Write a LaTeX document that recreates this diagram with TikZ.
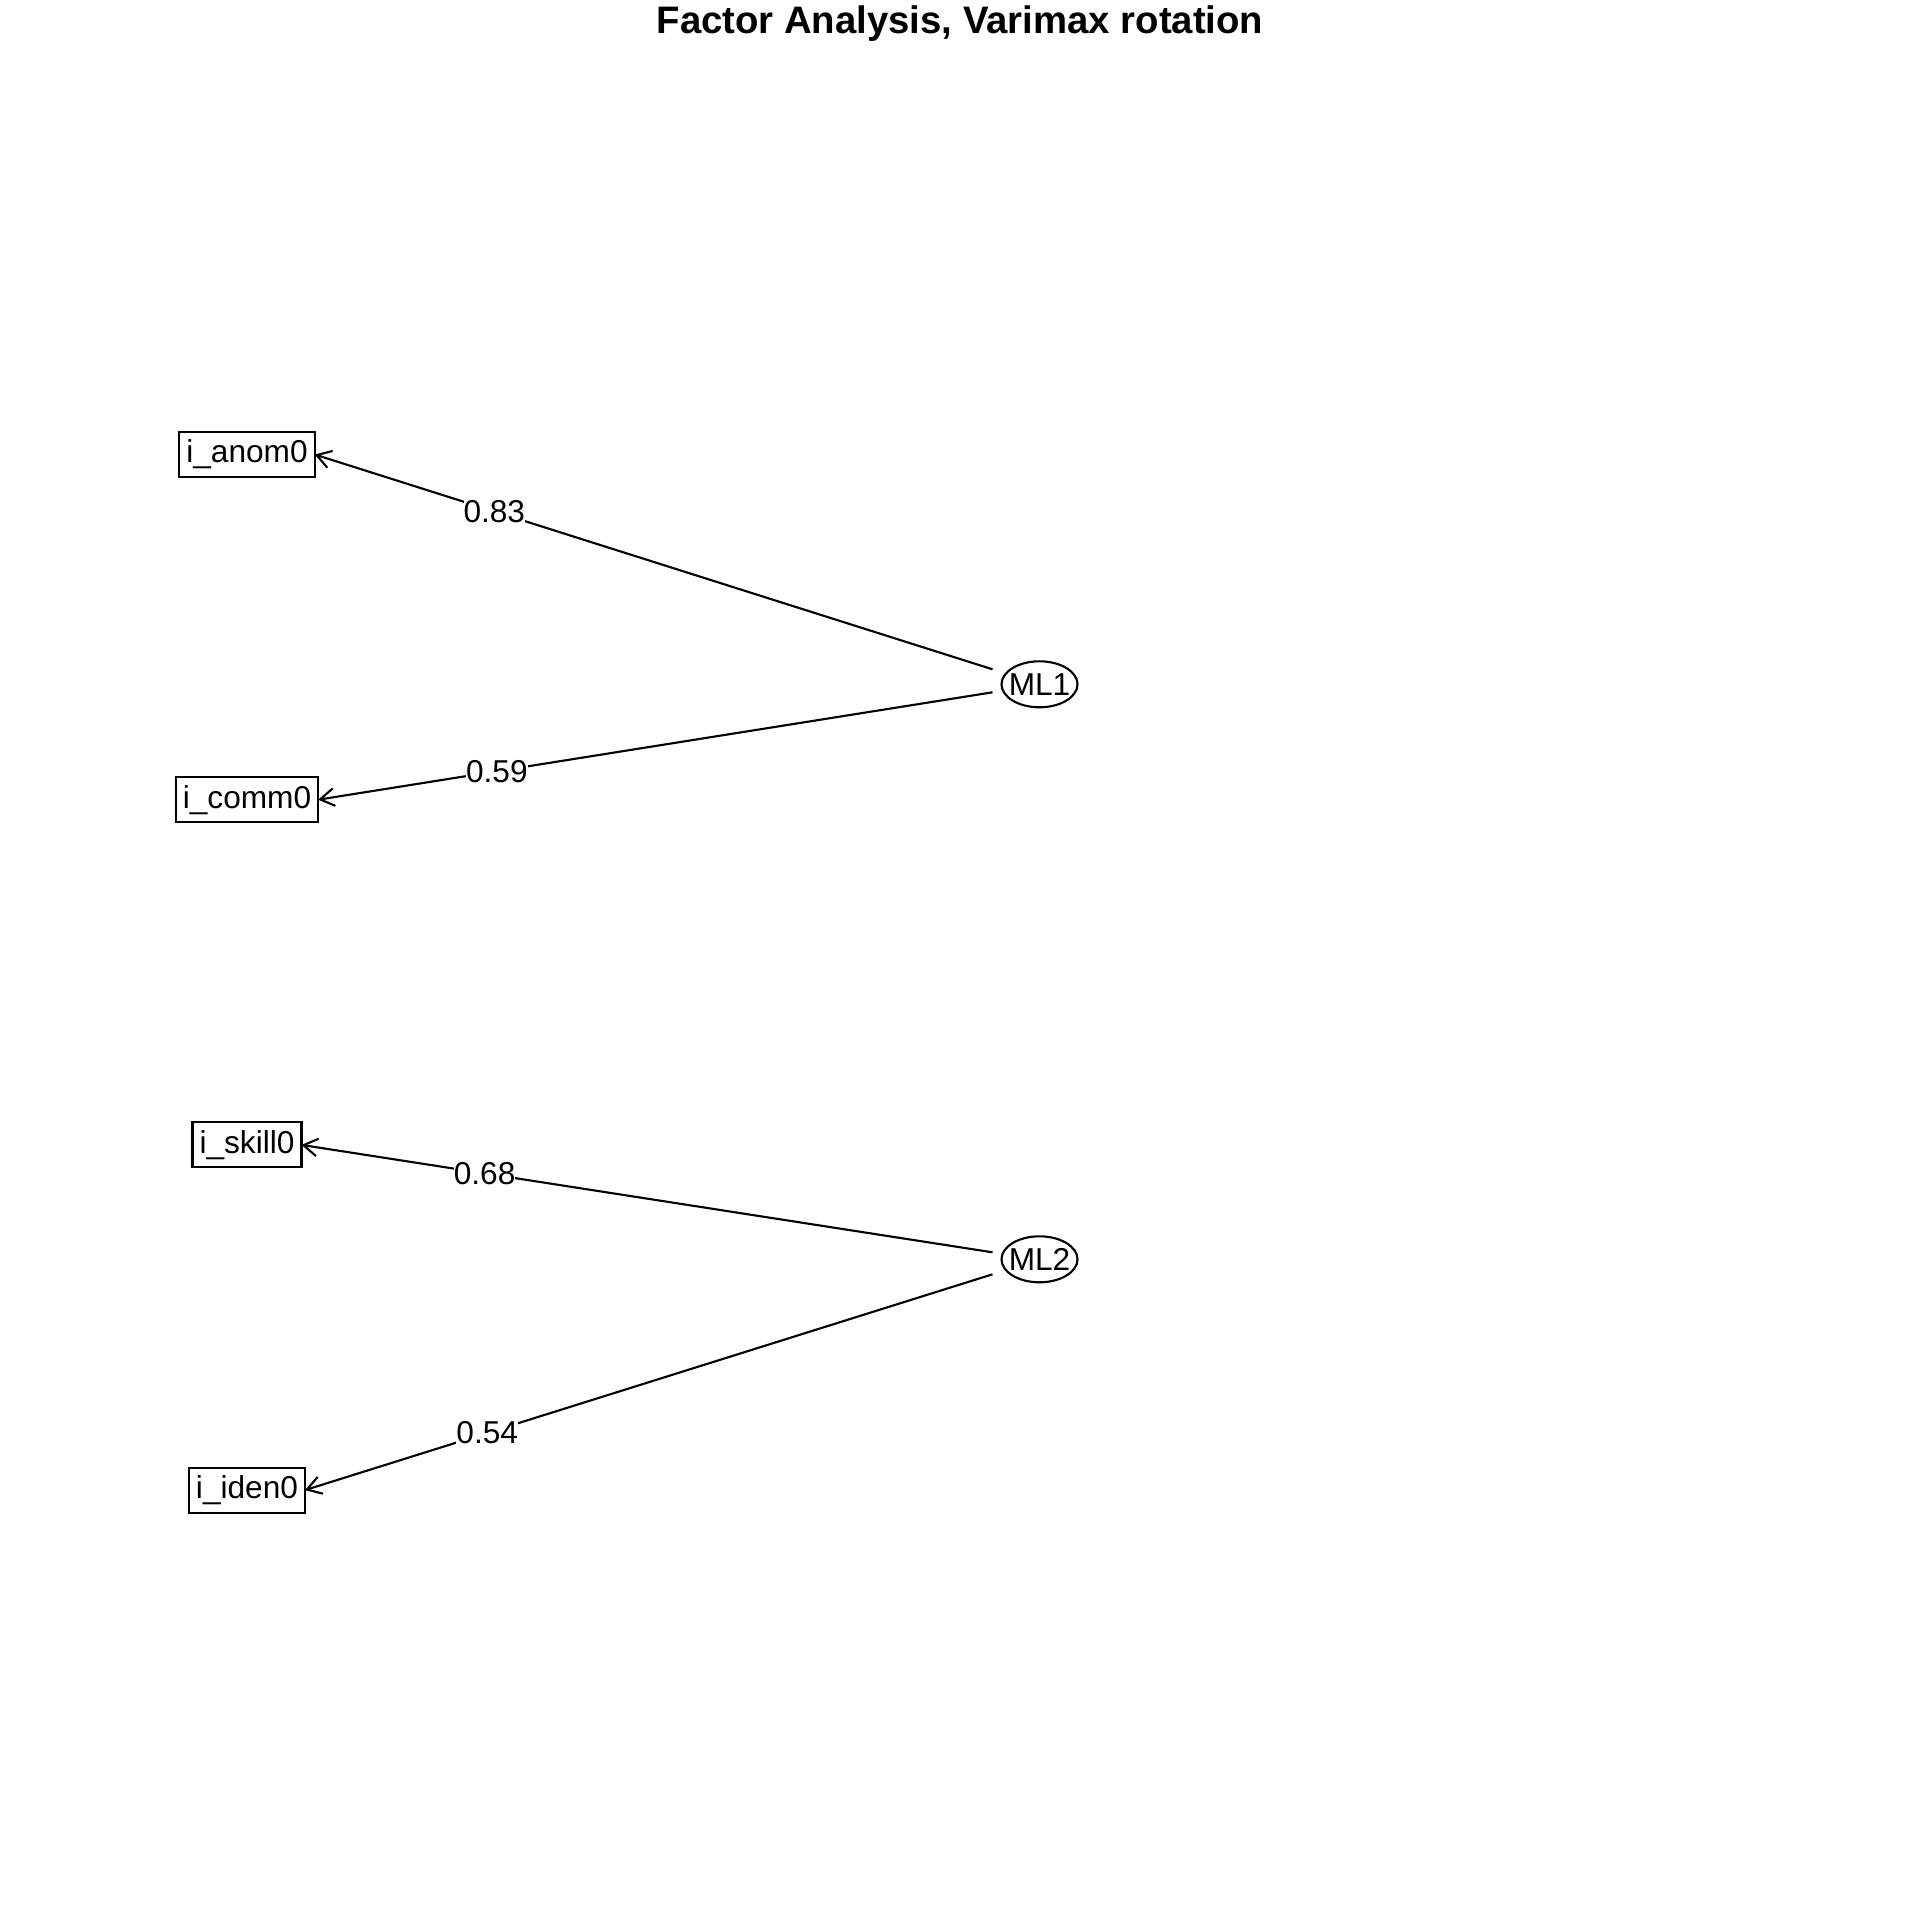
\documentclass[tikz,border=0pt]{standalone}
\usepackage{fontspec}
\setmainfont{Liberation Sans}
\usetikzlibrary{arrows.meta,positioning,shapes.geometric}

\begin{document}
\begin{tikzpicture}[
    item/.style={draw, inner xsep=0.07cm, inner ysep=0pt, minimum height=0.45cm, outer sep=0pt},
    factor/.style={draw, ellipse, inner xsep=-0.04cm, inner ysep=0pt, minimum width=0.76cm, minimum height=0.46cm, outer sep=0pt},
    load/.style={fill=white, inner sep=0pt, pos=0.735},
    ->, >={Straight Barb[length=4pt,width=5pt]}, line width=0.6pt,
    font=\fontsize{9}{10}\selectfont, node distance=3.452cm, on grid
]
\useasboundingbox (0,0) rectangle (19.2,-19.2);

% Title
\node[font=\fontsize{10.9}{12}\selectfont\bfseries] (title) at (9.6,-0.24) {Factor Analysis, Varimax rotation};

% Nodes
\node[item] (anom) at (2.47,-4.545) {i\_anom0};
\node[item,below=of anom] (comm) {i\_comm0};
\node[item,below=of comm] (skill) {i\_skill0};
\node[item,below=of skill] (iden) {i\_iden0};
\node[factor] (ML1) at (10.395,-6.843) {ML1};
\node[factor,below=5.75cm of ML1] (ML2) {ML2};

% Loadings as labels
\draw ([shift={(-0.09,0.15)}]ML1.west) -- (anom.east) node[load] {0.83};
\draw ([shift={(-0.09,-0.08)}]ML1.west) -- (comm.east) node[load] {0.59};
\draw ([shift={(-0.09,0.07)}]ML2.west) -- (skill.east) node[load] {0.68};
\draw ([shift={(-0.09,-0.15)}]ML2.west) -- (iden.east) node[load] {0.54};

\end{tikzpicture}
\end{document}
